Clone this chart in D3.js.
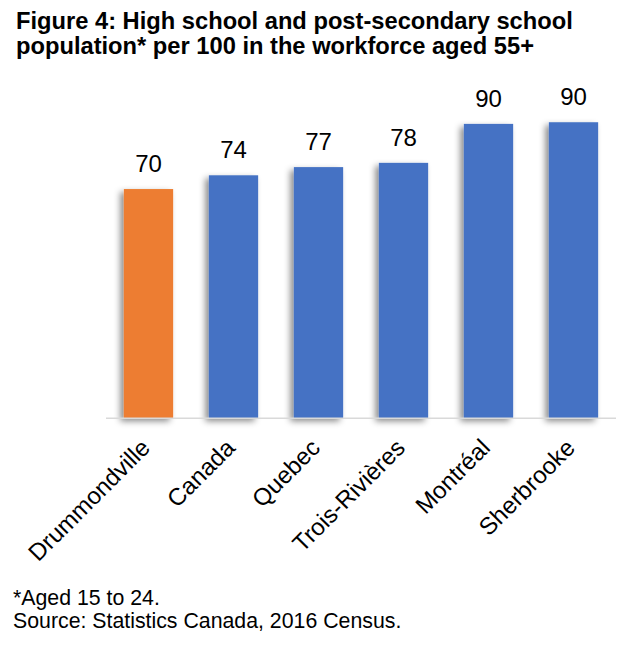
<!DOCTYPE html>
<html>
<head>
<meta charset="utf-8">
<script src="https://cdn.jsdelivr.net/npm/d3@7"></script>
<style>
  body { margin: 0; background: #fff; }
  svg { display: block; font-family: "Liberation Sans", Arial, sans-serif; }
</style>
</head>
<body>
<svg id="chart"></svg>
<script>
// chart data
const places = ["Drummondville", "Canada", "Quebec", "Trois-Rivières", "Montréal", "Sherbrooke"];
const values = [70.0, 74.2, 76.7, 78.0, 89.9, 90.4];
const barColors = ["#ED7D31", "#4472C4", "#4472C4", "#4472C4", "#4472C4", "#4472C4"];
const titleLines = ["Figure 4: High school and post-secondary school", "population* per 100 in the workforce aged 55+"];
const notes = ["*Aged 15 to 24.", "Source: Statistics Canada, 2016 Census."];

const width = 634;
const height = 648;
const baseY = 418.3;

let svg = d3.select('#chart')
  .attr('width', width)
  .attr('height', height);

// soft shadow like the office chart
let defs = svg.append('defs');
defs.append('filter')
  .attr('id', 'shadow')
  .attr('x', '-40%').attr('y', '-10%')
  .attr('width', '170%').attr('height', '130%')
  .append('feDropShadow')
  .attr('dx', -3.5).attr('dy', 3)
  .attr('stdDeviation', 3)
  .attr('flood-color', '#000')
  .attr('flood-opacity', 0.45);

let x = d3.scaleBand()
  .domain(places)
  .range([106, 616])
  .paddingInner(0.42)
  .paddingOuter(0.21);

let y = d3.scaleLinear()
  .domain([0, 100])
  .range([baseY, baseY - 327.5]);

// title
svg.append('g')
  .selectAll('text')
  .data(titleLines)
  .enter().append('text')
  .attr('x', 16)
  .attr('y', (d, i) => 29 + i * 25)
  .attr('font-size', 23.7)
  .attr('font-weight', 'bold')
  .attr('fill', '#000')
  .text(d => d);

// bars
svg.append('g')
  .selectAll('rect')
  .data(values)
  .enter().append('rect')
  .attr('x', (d, i) => x(places[i]))
  .attr('y', d => y(d))
  .attr('width', x.bandwidth())
  .attr('height', d => y(0) - y(d))
  .attr('fill', (d, i) => barColors[i])
  .attr('filter', 'url(#shadow)');

// baseline axis
svg.append('line')
  .attr('x1', 106).attr('x2', 616)
  .attr('y1', baseY).attr('y2', baseY)
  .attr('stroke', '#d9d9d9')
  .attr('stroke-width', 1.5);

// value labels
svg.append('g')
  .selectAll('text')
  .data(values)
  .enter().append('text')
  .attr('x', (d, i) => x(places[i]) + x.bandwidth() / 2)
  .attr('y', d => y(d) - 17)
  .attr('text-anchor', 'middle')
  .attr('font-size', 24)
  .attr('fill', '#000')
  .text(d => d3.format('.0f')(d));

// category labels, rotated
svg.append('g')
  .selectAll('text')
  .data(places)
  .enter().append('text')
  .attr('transform', d => `translate(${x(d) + x.bandwidth() / 2 + 3},${baseY + 31}) rotate(-45)`)
  .attr('text-anchor', 'end')
  .attr('font-size', 24)
  .attr('fill', '#000')
  .text(d => d);

// footnotes
svg.append('g')
  .selectAll('text')
  .data(notes)
  .enter().append('text')
  .attr('x', 13)
  .attr('y', (d, i) => 605 + i * 23)
  .attr('font-size', 21.3)
  .attr('fill', '#000')
  .text(d => d);
</script>
</body>
</html>
